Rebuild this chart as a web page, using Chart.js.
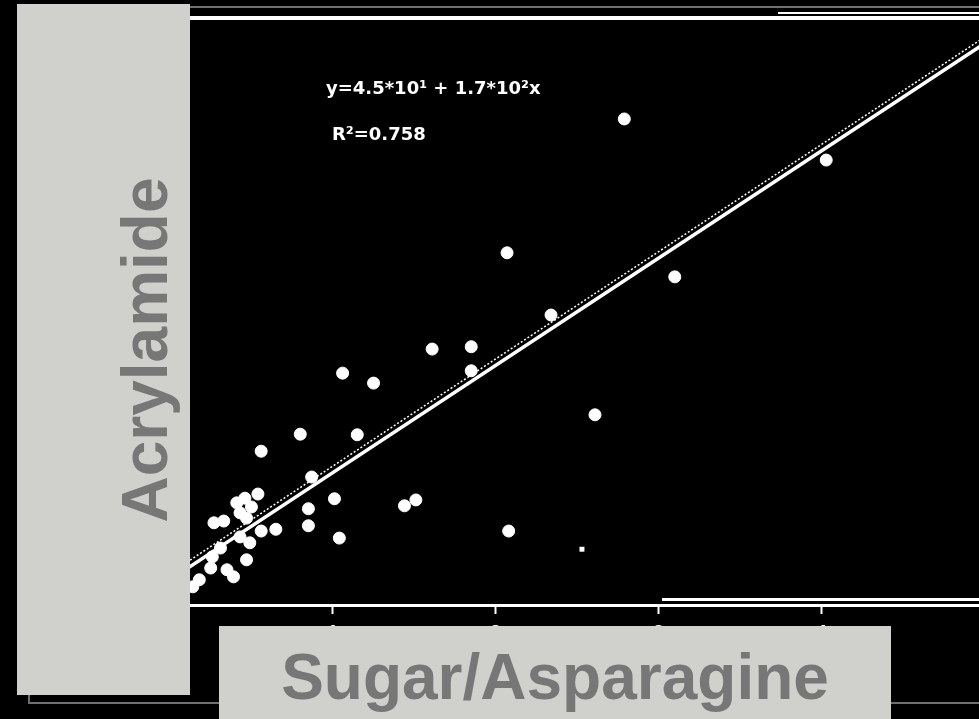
<!DOCTYPE html>
<html>
<head>
<meta charset="utf-8">
<script src="https://cdn.jsdelivr.net/npm/chart.js@4.4.0/dist/chart.umd.min.js"></script>
<style>
  html, body { margin: 0; padding: 0; background: #000; overflow: hidden; }
  #wrap { position: absolute; left: 0; top: 0; width: 1040px; height: 719px; }
</style>
</head>
<body>
<div id="wrap"><canvas id="chartAcr" width="1040" height="719"></canvas></div>
<script>
// Valores leídos a ojo del gráfico (Sugar/Asparagine vs Acrylamide)
const sampleX = [2.79, 4.03, 2.07, 3.10, 2.34, 1.61, 1.85, 1.85, 1.06, 1.25, 2.61,
  0.80, 1.15, 0.56, 0.87, 1.01, 0.85, 0.85, 1.44, 1.51, 1.04, 2.08,
  0.54, 0.46, 0.41, 0.50, 0.43, 0.27, 0.33, 0.56, 0.65, 0.47, 0.43, 0.49,
  0.26, 0.47, 0.35, 0.39, 0.18, 0.14, 0.25, 0.31];
const sampleY = [828, 758, 600, 559, 494, 436, 440, 399, 395, 378, 324,
  291, 290, 262, 218, 181, 164, 135, 169, 179, 114, 126,
  189, 182, 174, 167, 157, 140, 143, 126, 129, 148, 116, 106,
  82, 77, 60, 48, 43, 31, 63, 97];

// punto pequeño cuadrado
const singleX = [2.53];
const singleY = [95];

// recta de regresión (extremos) y su borde punteado
const trendX = [0, 5];
const trendY = [43, 956];
const trendEdgeY = [54, 967];

const xTicks = [0, 1, 2, 3, 4, 5];
const xTickLabels = ["0", "1", "2", "3", "4", "5"];
const xMax = 5.3;
const yMax = 1000;

const eqLine1 = "y=4.5*10\u00B9 + 1.7*10\u00B2x";
const eqLine2 = "R\u00B2=0.758";

const toPts = (xs, ys) => xs.map((x, i) => ({ x: x, y: ys[i] }));

// Decoración de la diapositiva: marcos, cajas grises y títulos
const decorPlugin = {
  id: "decor",
  beforeDatasetsDraw(chart) {
    const { ctx, chartArea } = chart;
    ctx.save();
    ctx.fillStyle = "#fff";
    ctx.fillRect(chartArea.left, chartArea.top - 2, chart.width, 4);
    ctx.fillRect(778, 12, chart.width, 2);
    ctx.fillRect(662, 598, chart.width, 3);
    ctx.restore();
  },
  afterDatasetsDraw(chart) {
    const ctx = chart.ctx;
    ctx.save();
    ctx.fillStyle = "#fff";
    ctx.font = 'bold 18px "DejaVu Sans", sans-serif';
    ctx.textAlign = "left";
    ctx.textBaseline = "alphabetic";
    ctx.fillText(eqLine1, 326, 94);
    ctx.fillText(eqLine2, 332, 140);
    ctx.restore();
  },
  afterDraw(chart) {
    const ctx = chart.ctx;
    ctx.save();
    ctx.fillStyle = "#6f6f6f";
    ctx.fillRect(17, 6, chart.width, 2);
    ctx.fillRect(28, 702, chart.width, 2);
    ctx.fillRect(28, 690, 2, 14);

    ctx.fillStyle = "#d0d1cc";
    ctx.fillRect(17, 4, 173, 691);
    ctx.fillRect(219, 626, 672, 93);

    ctx.fillStyle = "#777";
    ctx.font = 'bold 64px "Liberation Sans", Arial, sans-serif';
    ctx.textAlign = "center";
    ctx.textBaseline = "alphabetic";
    ctx.fillText("Sugar/Asparagine", 555, 699);
    ctx.translate(167, 350);
    ctx.rotate(-Math.PI / 2);
    ctx.fillText("Acrylamide", 0, 0);
    ctx.restore();
  },
};

const ctx = document.getElementById("chartAcr").getContext("2d");
new Chart(ctx, {
  type: "scatter",
  data: {
    datasets: [
      {
        label: "trend",
        data: toPts(trendX, trendY),
        showLine: true,
        borderColor: "#fff",
        borderWidth: 3.5,
        pointRadius: 0,
      },
      {
        label: "trend edge",
        data: toPts(trendX, trendEdgeY),
        showLine: true,
        borderColor: "#fff",
        borderWidth: 1.5,
        borderDash: [2, 2],
        pointRadius: 0,
      },
      {
        label: "samples",
        data: toPts(sampleX, sampleY),
        pointRadius: 6,
        pointBackgroundColor: "#fff",
        pointBorderColor: "#fff",
        pointBorderWidth: 1,
      },
      {
        label: "single",
        data: toPts(singleX, singleY),
        pointStyle: "rect",
        pointRadius: 3.5,
        pointBackgroundColor: "#fff",
        pointBorderColor: "#fff",
        pointBorderWidth: 0,
      },
    ],
  },
  options: {
    responsive: false,
    animation: false,
    layout: { padding: { left: 170, right: 6, top: 18, bottom: 74 } },
    plugins: {
      legend: { display: false },
      tooltip: { enabled: false },
    },
    scales: {
      x: {
        type: "linear",
        min: 0,
        max: xMax,
        afterFit: (s) => { s.height = 40; },
        afterBuildTicks: (s) => { s.ticks = xTicks.map((v) => ({ value: v })); },
        ticks: {
          color: "#fff",
          padding: 7,
          font: { size: 20, weight: "bold", family: '"Liberation Sans", Arial, sans-serif' },
          callback: (v) => xTickLabels[xTicks.indexOf(v)] ?? "",
        },
        grid: {
          drawOnChartArea: false,
          drawTicks: true,
          tickLength: 9,
          tickColor: "#fff",
          tickWidth: 2,
          color: "#fff",
        },
        border: { color: "#fff", width: 3 },
      },
      y: { display: false, min: 0, max: yMax },
    },
  },
  plugins: [decorPlugin],
});
</script>
</body>
</html>
